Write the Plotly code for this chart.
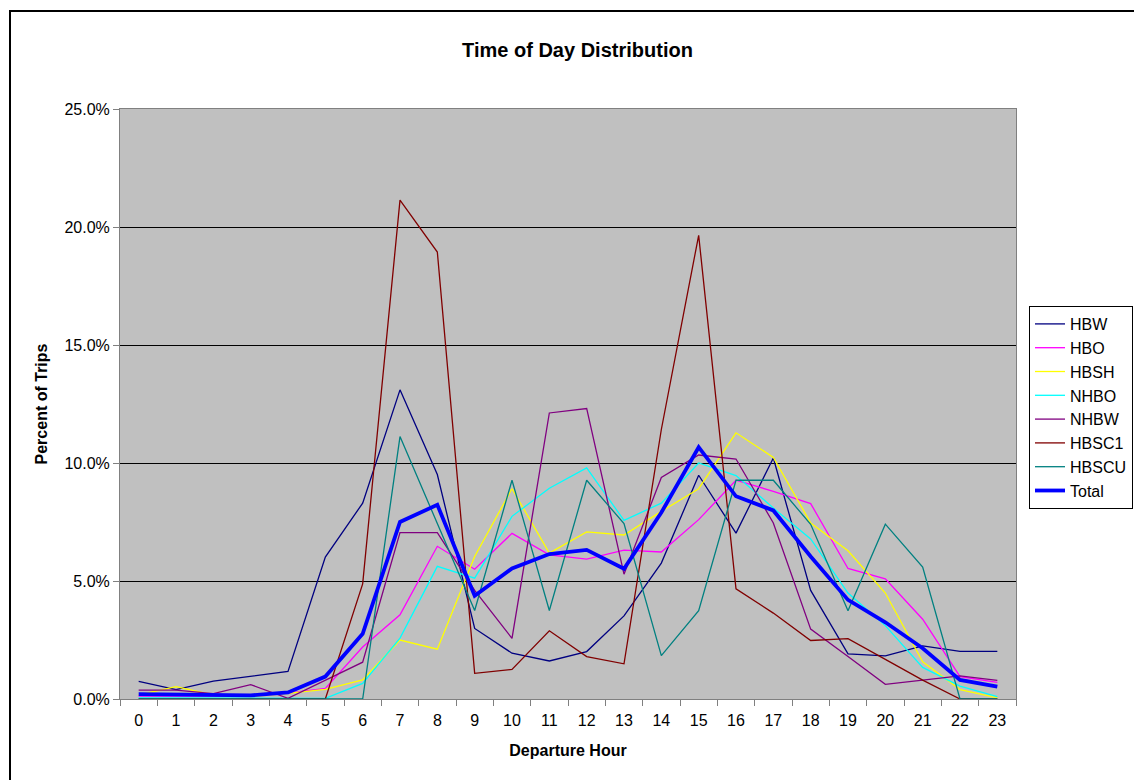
import plotly.graph_objects as go

# Departure hour categories
hours = list(range(24))

# Percent of trips by departure hour, per trip purpose
hbw = [0.75, 0.40, 0.76, 0.98, 1.17, 6.01, 8.30, 13.10, 9.51, 2.99, 1.94, 1.61,
       2.01, 3.52, 5.76, 9.48, 7.03, 10.21, 4.60, 1.91, 1.83, 2.25, 2.02, 2.02]
hbo = [0.12, 0.12, 0.12, 0.12, 0.25, 0.45, 2.20, 3.57, 6.47, 5.50, 7.02, 6.11,
       5.93, 6.31, 6.23, 7.60, 9.27, 8.80, 8.28, 5.53, 5.09, 3.38, 0.95, 0.70]
hbsh = [0.17, 0.52, 0.17, 0.10, 0.24, 0.41, 0.81, 2.50, 2.11, 6.04, 8.91, 6.18,
        7.08, 6.95, 7.95, 8.91, 11.28, 10.24, 7.46, 6.28, 4.49, 1.58, 0.40, 0.05]
nhbo = [0.05, 0.05, 0.05, 0.05, 0.05, 0.03, 0.66, 2.58, 5.62, 5.12, 7.74, 8.93,
        9.79, 7.57, 8.30, 10.00, 9.47, 8.09, 6.78, 4.49, 3.11, 1.34, 0.55, 0.10]
nhbw = [0.38, 0.38, 0.23, 0.61, 0.03, 0.80, 1.56, 7.05, 7.05, 4.60, 2.57, 12.12,
        12.31, 5.29, 9.39, 10.34, 10.17, 7.46, 2.96, 1.80, 0.62, 0.80, 0.98, 0.79]
hbsc1 = [0.0, 0.0, 0.0, 0.0, 0.0, 0.0, 4.88, 21.14, 18.94, 1.09, 1.25, 2.89,
         1.80, 1.49, 11.42, 19.65, 4.67, 3.64, 2.48, 2.56, 1.68, 0.80, 0.0, 0.0]
hbscu = [0.0, 0.0, 0.0, 0.0, 0.0, 0.0, 0.0, 11.12, 7.45, 3.75, 9.27, 3.75,
         9.27, 7.43, 1.84, 3.74, 9.27, 9.27, 7.40, 3.74, 7.41, 5.59, 0.0, 0.0]
total = [0.21, 0.20, 0.15, 0.15, 0.28, 0.95, 2.76, 7.50, 8.23, 4.37, 5.53, 6.14,
         6.32, 5.52, 7.90, 10.67, 8.59, 7.99, 6.04, 4.20, 3.25, 2.15, 0.81, 0.52]

series_names = ["HBW", "HBO", "HBSH", "NHBO", "NHBW", "HBSC1", "HBSCU", "Total"]
series_values = [hbw, hbo, hbsh, nhbo, nhbw, hbsc1, hbscu, total]
series_colors = ["#000080", "#FF00FF", "#FFFF00", "#00FFFF",
                 "#800080", "#800000", "#008080", "#0000FF"]
series_widths = [1.3, 1.3, 1.3, 1.3, 1.3, 1.3, 1.3, 3.8]

y_ticks = [0, 5, 10, 15, 20, 25]

FONT = "Arial, 'Liberation Sans', sans-serif"
W, H = 1134, 780

fig = go.Figure()
for name, vals, col, w in zip(series_names, series_values, series_colors, series_widths):
    fig.add_trace(go.Scatter(
        x=[str(h) for h in hours], y=vals, name=name, mode="lines",
        line=dict(color=col, width=w),
    ))

# plot area spans x 120..1016 px, y 109..699 px
L, R, T, B = 120, W - 1016, 109, H - 699
pw, ph = W - L - R, H - T - B

def px_x(p):
    return (p - L) / pw

def px_y(p):
    return (H - B - p) / ph

fig.update_layout(
    width=W, height=H,
    margin=dict(l=L, r=R, t=T, b=B, pad=0, autoexpand=False),
    paper_bgcolor="white",
    plot_bgcolor="#C0C0C0",
    font=dict(family=FONT, size=16, color="black"),
    title=dict(text="<b>Time of Day Distribution</b>",
               x=577.5 / W, xref="container", xanchor="center",
               y=1 - 50 / H, yref="container", yanchor="middle",
               font=dict(family=FONT, size=20, color="black")),
    showlegend=True,
    legend=dict(
        xref="container", yref="container",
        x=1029 / W, y=1 - 306 / H, xanchor="left", yanchor="top",
        bgcolor="white", bordercolor="black", borderwidth=1,
        font=dict(family=FONT, size=16, color="black"),
        tracegroupgap=0, itemwidth=30,
    ),
    xaxis=dict(
        type="category",
        range=[-0.5, 23.5],
        tickson="boundaries",
        ticks="outside", ticklen=6, tickcolor="#808080", tickwidth=1,
        ticklabelstandoff=7,
        showline=True, linecolor="#808080", linewidth=1, mirror=True,
        showgrid=False, zeroline=False,
        tickfont=dict(family=FONT, size=16, color="black"),
        title=dict(text="<b>Departure Hour</b>", standoff=16,
                   font=dict(family=FONT, size=16, color="black")),
    ),
    yaxis=dict(
        range=[0, 25],
        tickvals=y_ticks,
        ticktext=[f"{v:.1f}%" for v in y_ticks],
        ticks="outside", ticklen=6, tickcolor="#808080", tickwidth=1,
        showline=True, linecolor="#808080", linewidth=1, mirror=True,
        showgrid=True, gridcolor="black", gridwidth=1,
        zeroline=False,
        tickfont=dict(family=FONT, size=16, color="black"),
        title=dict(text="<b>Percent of Trips</b>", standoff=12,
                   font=dict(family=FONT, size=16, color="black")),
    ),
)

# outer chart frame
fig.add_shape(type="rect", xref="paper", yref="paper",
              x0=px_x(10), x1=px_x(1150), y0=px_y(800), y1=px_y(11),
              line=dict(color="black", width=2), fillcolor="rgba(0,0,0,0)",
              layer="below")

fig.write_html("out.html")
